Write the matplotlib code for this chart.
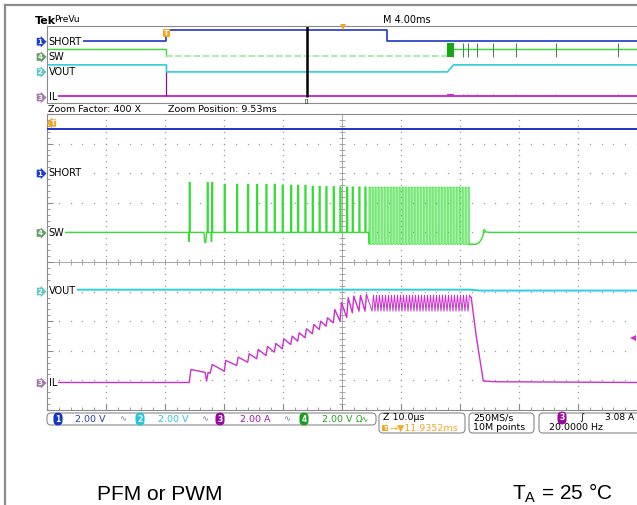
import numpy as np
import matplotlib.pyplot as plt
from matplotlib.patches import FancyBboxPatch

plt.rcParams['font.family'] = ['DejaVu Sans']
plt.rcParams['mathtext.fontset'] = 'custom'
plt.rcParams['mathtext.rm'] = 'Liberation Sans'

W, H = 637, 505

BLUE = '#1f33c4'
GREEN = '#33dd33'
CYAN = '#2ccfdc'
MAGENTA = '#cc2fcc'
ORANGE = '#f5a623'
GRID = '#9a9a9a'
FRAME = '#8a8a8a'

# channel marker positions (divisions from screen centre) and scale per division
ch_names = ['SHORT', 'SW', 'VOUT', 'IL']
ch_nums = ['1', '4', '2', '3']
ch_offset = [3.0, 1.0, -1.0, -4.07]
ch_scale = [2.0, 2.0, 2.0, 2.0]
ch_badge = ['#1a3fd0', '#6aa06a', '#66c6c6', '#a07aa8']

# ---- zoomed window, time in us (10 us/div) ----
short_level = 2.97

sw_pfm_t = [-25.88, -22.83, -22.08, -19.95, -17.85, -15.98, -14.46, -12.88, -11.47, -10.12,
            -8.69, -7.51, -6.27, -5.03, -3.86, -2.71, -1.47, -0.34, 0.80, 1.75, 2.88, 3.90]
sw_pfm_top = [3.36, 3.36, 3.36, 3.24, 3.24, 3.24, 3.24, 3.24, 3.24, 3.20,
              3.18, 3.18, 3.18, 3.11, 3.11, 3.09, 3.09, 3.06, 3.06, 3.06, 3.06, 3.06]
sw_pfm_low = [-0.6, 0, -0.6, 0, 0, 0, 0, 0, 0, 0,
              0, 0, 0, 0, 0, 0, 0, 0, 0, 0, 0, 0]
sw_dip_t = [-23.4, -23.25, -23.1, -22.95]
sw_dip_v = [0.0, -0.68, -0.68, 0.0]
sw_pwm_t = [4.58, 5.09, 5.59, 6.10, 6.61, 7.12, 7.63, 8.14, 8.64, 9.15, 9.66, 10.17,
            10.68, 11.19, 11.69, 12.20, 12.71, 13.22, 13.73, 14.24, 14.75, 15.25, 15.76,
            16.27, 16.78, 17.29, 17.80, 18.31, 18.81, 19.32, 19.83, 20.34, 20.85, 21.36]
sw_pwm_hi = 3.06
sw_pwm_lo = -0.8
sw_tail_t = [22.71, 23.22, 23.64, 23.90, 24.07, 24.40, 25.08, 50.0]
sw_tail_v = [-0.8, -0.7, -0.47, -0.2, 0.2, 0.03, 0.0, 0.0]

vout_t = [-50.0, 21.7, 23.4, 50.0]
vout_v = [0.13, 0.13, 0.07, 0.07]

il_start_t = [-50.0, -25.9, -25.6, -23.2, -22.95, -22.7, -22.35, -22.0]
il_start_v = [0.0, 0.0, 0.88, 0.68, 0.09, 0.68, 0.62, 1.22]
il_valley = [0.76, 1.15, 1.37, 1.60, 1.82, 2.05, 2.28, 2.57, 2.79, 3.02,
             3.29, 3.58, 3.80, 4.03, 4.14, 4.39, 4.71, 4.82, 4.82]
il_peak = [1.49, 1.71, 1.94, 2.23, 2.43, 2.64, 2.95, 3.13, 3.36, 3.63,
           3.92, 4.14, 4.37, 4.93, 5.41, 5.72, 5.83, 5.88, 5.95]
il_pwm_valley = 4.82
il_pwm_peak = 5.90
il_fall_t = [21.9, 22.8, 23.95, 26.0, 50.0]
il_fall_v = [5.74, 3.0, 0.1, 0.05, 0.0]

# ---- PreVu overview, time in ms (4 ms/div) ----
ov_short_t = [-8.1, 0, 0, 14.96, 14.96, 31.9]
ov_short_v = [0, 0, 3.04, 3.04, 0, 0]
ov_sw_pre_t = [-8.1, 0, 0]
ov_sw_pre_v = [2.0, 2.0, 0.13]
ov_sw_pfm_t = [0, 19.05]
ov_sw_pfm_v = 0.13
ov_sw_burst = [19.05, 19.46]
ov_sw_post_t = [19.46, 31.9]
ov_sw_post_v = 2.0
ov_sw_ticks = [19.44, 20.12, 20.46, 21.08, 22.14, 23.73, 26.39, 30.62]
ov_sw_tick_hi = 3.6
ov_vout_t = [-8.1, 0, 0, 19.05, 19.46, 31.9]
ov_vout_v = [1.9, 1.9, 0.08, 0.08, 1.9, 1.9]
ov_il_spike = 6.2
ov_il_tick = 0.4
zoom_pos = 9.53


def div(v, ch):
    return np.asarray(v, dtype=float) / ch_scale[ch] + ch_offset[ch]


fig = plt.figure(figsize=(W / 100, H / 100), dpi=100)
fig.patch.set_facecolor('white')


def fx(x):
    return x / W


def fy(y):
    return 1 - y / H


# main zoomed graticule
ax = fig.add_axes([fx(47), fy(410), 590 / W, 296 / H])
ax.set_xlim(-50, 50)
ax.set_ylim(-5, 5)
minor_y = np.arange(-5, 5.001, 0.2)
minor_x = np.arange(-50, 50.001, 2)
for xg in range(-40, 50, 10):
    if xg != 0:
        ax.plot(np.full_like(minor_y, xg), minor_y, ls='none', marker='s', ms=0.9,
                mew=0, color=GRID, zorder=1)
for yg in range(-4, 5):
    if yg != 0:
        ax.plot(minor_x, np.full_like(minor_x, yg), ls='none', marker='s', ms=0.9,
                mew=0, color=GRID, zorder=1)
ax.axvline(0, color=GRID, lw=0.6, zorder=1)
ax.axhline(0, color=GRID, lw=0.6, zorder=1)
ax.plot(np.zeros_like(minor_y), minor_y, ls='none', marker='_', ms=4, mew=0.6, color=GRID, zorder=1)
ax.plot(minor_x, np.zeros_like(minor_x), ls='none', marker='|', ms=4, mew=0.6, color=GRID, zorder=1)
ax.set_xticks(np.arange(-50, 51, 10))
ax.set_xticks(minor_x, minor=True)
ax.set_yticks(np.arange(-5, 6, 1))
ax.set_yticks(minor_y, minor=True)
ax.tick_params(which='both', direction='in', colors=FRAME, labelleft=False, labelbottom=False)
ax.tick_params(which='major', length=4)
ax.tick_params(which='minor', length=2)
for s in ['top', 'left', 'bottom']:
    ax.spines[s].set_color(FRAME)
ax.spines['right'].set_visible(False)

# SHORT
ax.plot([-50, 50], div([short_level, short_level], 0), color=BLUE, lw=1.4, zorder=3)

# SW: sparse PFM pulses, then the dense PWM burst with a thinner trace
PW = 0.15
t, v = [-50.0], [0.0]
dip_done = False
for tp, top, lo in zip(sw_pfm_t, sw_pfm_top, sw_pfm_low):
    if not dip_done and tp > sw_dip_t[0]:
        t += sw_dip_t
        v += sw_dip_v
        dip_done = True
    t += [tp - 0.1, tp - 0.1, tp, tp, tp + PW, tp + PW]
    v += [0, lo, lo, top, top, 0]
t += [sw_pwm_t[0] - 0.05]
v += [0]
ax.plot(t, div(v, 1), color=GREEN, lw=1.0, zorder=3)

t, v = [sw_pwm_t[0] - 0.05], [0.0]
for tp in sw_pwm_t:
    t += [tp, tp, tp + 0.2, tp + 0.2]
    v += [sw_pwm_lo, sw_pwm_hi, sw_pwm_hi, sw_pwm_lo]
t += sw_tail_t[:1]
v += sw_tail_v[:1]
ax.plot(t, div(v, 1), color=GREEN, lw=0.6, zorder=3)
ax.plot([t[-2]] + sw_tail_t, div([v[-2]] + sw_tail_v, 1), color=GREEN, lw=1.0, zorder=3)

# VOUT
ax.plot(vout_t, div(vout_v, 2), color=CYAN, lw=1.4, zorder=3)

# IL
t, v = list(il_start_t), list(il_start_v)
for tp, va, pk in zip(sw_pfm_t[3:], il_valley, il_peak):
    t += [tp, tp + 0.25]
    v += [va, pk]
ax.plot(t, div(v, 3), color=MAGENTA, lw=1.0, zorder=3)

t, v = [t[-1]], [v[-1]]
for tp in sw_pwm_t[1:]:
    t += [tp, tp + 0.25]
    v += [il_pwm_valley, il_pwm_peak]
t += il_fall_t[:1]
v += il_fall_v[:1]
ax.plot(t, div(v, 3), color=MAGENTA, lw=0.7, zorder=3)
ax.plot(il_fall_t, div(il_fall_v, 3), color=MAGENTA, lw=1.0, zorder=3)

# PreVu overview
ov = fig.add_axes([fx(47), fy(103), 590 / W, 77 / H])
ov.set_xlim(-8.1, 31.9)
ov.set_ylim(-5, 5)
ov.set_xticks([])
ov.set_yticks([])
for s in ['top', 'left', 'bottom']:
    ov.spines[s].set_color(FRAME)
ov.spines['right'].set_visible(False)
ov.plot(ov_short_t, div(ov_short_v, 0), color=BLUE, lw=1.2)
ov.plot(ov_sw_pre_t, div(ov_sw_pre_v, 1), color=GREEN, lw=1.0)
ov.plot(ov_sw_pfm_t, div([ov_sw_pfm_v] * 2, 1), color='#9ee89e', lw=1.2, ls=(0, (4, 1.5)))
ov.fill_between(ov_sw_burst, div(0, 1), div(ov_sw_tick_hi, 1), color='#11aa11', lw=0)
ov.plot(ov_sw_post_t, div([ov_sw_post_v] * 2, 1), color=GREEN, lw=1.0)
ov.vlines(ov_sw_ticks, div(0, 1), div(ov_sw_tick_hi, 1), color='#3a8a3a', lw=0.7)
ov.plot(ov_vout_t, div(ov_vout_v, 2), color=CYAN, lw=1.2)
ov.plot([-8.1, 31.9], div([0, 0], 3), color=MAGENTA, lw=1.4)
ov.vlines([0], div(0, 3), div(ov_il_spike, 3), color='#7a1a7a', lw=0.9)
ov.vlines(ov_sw_ticks, div(0, 3), div(ov_il_tick, 3), color=MAGENTA, lw=0.7)
ov.fill_between(ov_sw_burst, div(0, 3), div(ov_il_tick, 3), color=MAGENTA, lw=0)
ov.vlines([zoom_pos], div(0, 3) - 0.1, 5, color='black', lw=1.8)

# overlay for the screen furniture, in pixels
deco = fig.add_axes([0, 0, 1, 1])
deco.set_xlim(0, W)
deco.set_ylim(H, 0)
deco.axis('off')

deco.plot([5, 5], [5, H], color='#8c8c8c', lw=1.6)
deco.plot([5, W], [5, 5], color='#8c8c8c', lw=1.6)

deco.text(35, 20.5, 'Tek', fontsize=8, fontweight='bold', va='center')
deco.text(54, 19.5, 'PreVu', fontsize=6.5, va='center')
deco.text(383, 20, 'M 4.00ms', fontsize=7, va='center')
deco.plot([343], [27], marker='v', ms=4.5, color=ORANGE, mew=0)
deco.text(166.5, 33, 'T', fontsize=5, color='white', fontweight='bold', ha='center', va='center',
          bbox=dict(boxstyle='round,pad=0.15', fc=ORANGE, ec='none'))
deco.text(307, 100.5, '[]', fontsize=4, ha='center', va='center')

ov_label_y = [41.7, 57, 72, 97.5]
main_label_y = [173.5, 233, 291.5, 383]
for i in range(4):
    for ly in (ov_label_y[i], main_label_y[i]):
        deco.text(40, ly, ch_nums[i], fontsize=5, color='white', fontweight='bold',
                  ha='center', va='center',
                  bbox=dict(boxstyle='rarrow,pad=0.12', fc=ch_badge[i], ec='none'))
        deco.text(48.5, ly, ch_names[i], fontsize=7, ha='left', va='center',
                  bbox=dict(boxstyle='square,pad=0.1', fc='white', ec='none'))

deco.text(48, 109, 'Zoom Factor: 400 X', fontsize=6.8, va='center')
deco.text(168, 109, 'Zoom Position: 9.53ms', fontsize=6.8, va='center')

deco.text(53, 123, 'T', fontsize=5, color='white', fontweight='bold', ha='center', va='center',
          bbox=dict(boxstyle='larrow,pad=0.1', fc=ORANGE, ec='none'))
deco.plot([633], [338], marker='<', ms=4, color=MAGENTA, mew=0)

# status bar
boxes = [(47, 376, 413, 425), (379, 465, 413, 433), (469, 534, 413, 433), (539, 645, 413, 433)]
for x0, x1, y0, y1 in boxes:
    deco.add_patch(FancyBboxPatch((x0, y0), x1 - x0, y1 - y0,
                                  boxstyle='round,pad=0,rounding_size=4',
                                  fc='white', ec=FRAME, lw=0.8))

sb_y = 419
badges = [(58, '1', '#1535c8'), (140, '2', '#22c8d8'), (220, '3', '#9a0aa0'), (304, '4', '#1aa01a')]
for bx, num, col in badges:
    deco.text(bx, sb_y, num, fontsize=5.5, color='white', fontweight='bold', ha='center',
              va='center', bbox=dict(boxstyle='round,pad=0.25,rounding_size=0.6', fc=col, ec='none'))
deco.text(75, sb_y, '2.00 V', fontsize=6.8, color='#2a3fa8', va='center')
deco.text(158, sb_y, '2.00 V', fontsize=6.8, color='#2cc6d6', va='center')
deco.text(240, sb_y, '2.00 A', fontsize=6.8, color='#9a1a9a', va='center')
deco.text(322, sb_y, '2.00 V', fontsize=6.8, color='#22a022', va='center')
deco.text(356, sb_y, 'Ω∿', fontsize=6, color='#22a022', va='center')
for sx in (123, 205, 287):
    deco.text(sx, sb_y, '∿', fontsize=6, color='#6a7aa0', va='center', ha='center')

deco.text(383, 418, 'Z 10.0µs', fontsize=6.8, va='center')
deco.text(385, 428, 'T', fontsize=4.5, color='white', fontweight='bold', ha='center', va='center',
          bbox=dict(boxstyle='square,pad=0.1', fc=ORANGE, ec='none'))
deco.text(389, 428, '→▼11.9352ms', fontsize=6.8, color=ORANGE, va='center')
deco.text(473, 418, '250MS/s', fontsize=6.8, va='center')
deco.text(473, 428, '10M points', fontsize=6.8, va='center')
deco.text(562, 418, '3', fontsize=5.5, color='white', fontweight='bold', ha='center', va='center',
          bbox=dict(boxstyle='round,pad=0.25,rounding_size=0.6', fc='#9a0aa0', ec='none'))
deco.text(582, 418, '∫', fontsize=6.8, va='center', ha='center')
deco.text(634, 418, '3.08 A', fontsize=6.5, va='center', ha='right')
deco.text(549, 428, '20.0000 Hz', fontsize=6.8, va='center')

# captions
deco.text(160, 500, 'PFM or PWM', fontsize=15, family='Liberation Sans', ha='center', va='baseline')
deco.text(512, 500, r'$\mathregular{T_A}$ = 25 °C', fontsize=15, family='Liberation Sans',
          ha='left', va='baseline')

fig.savefig('out.png', dpi=100)
